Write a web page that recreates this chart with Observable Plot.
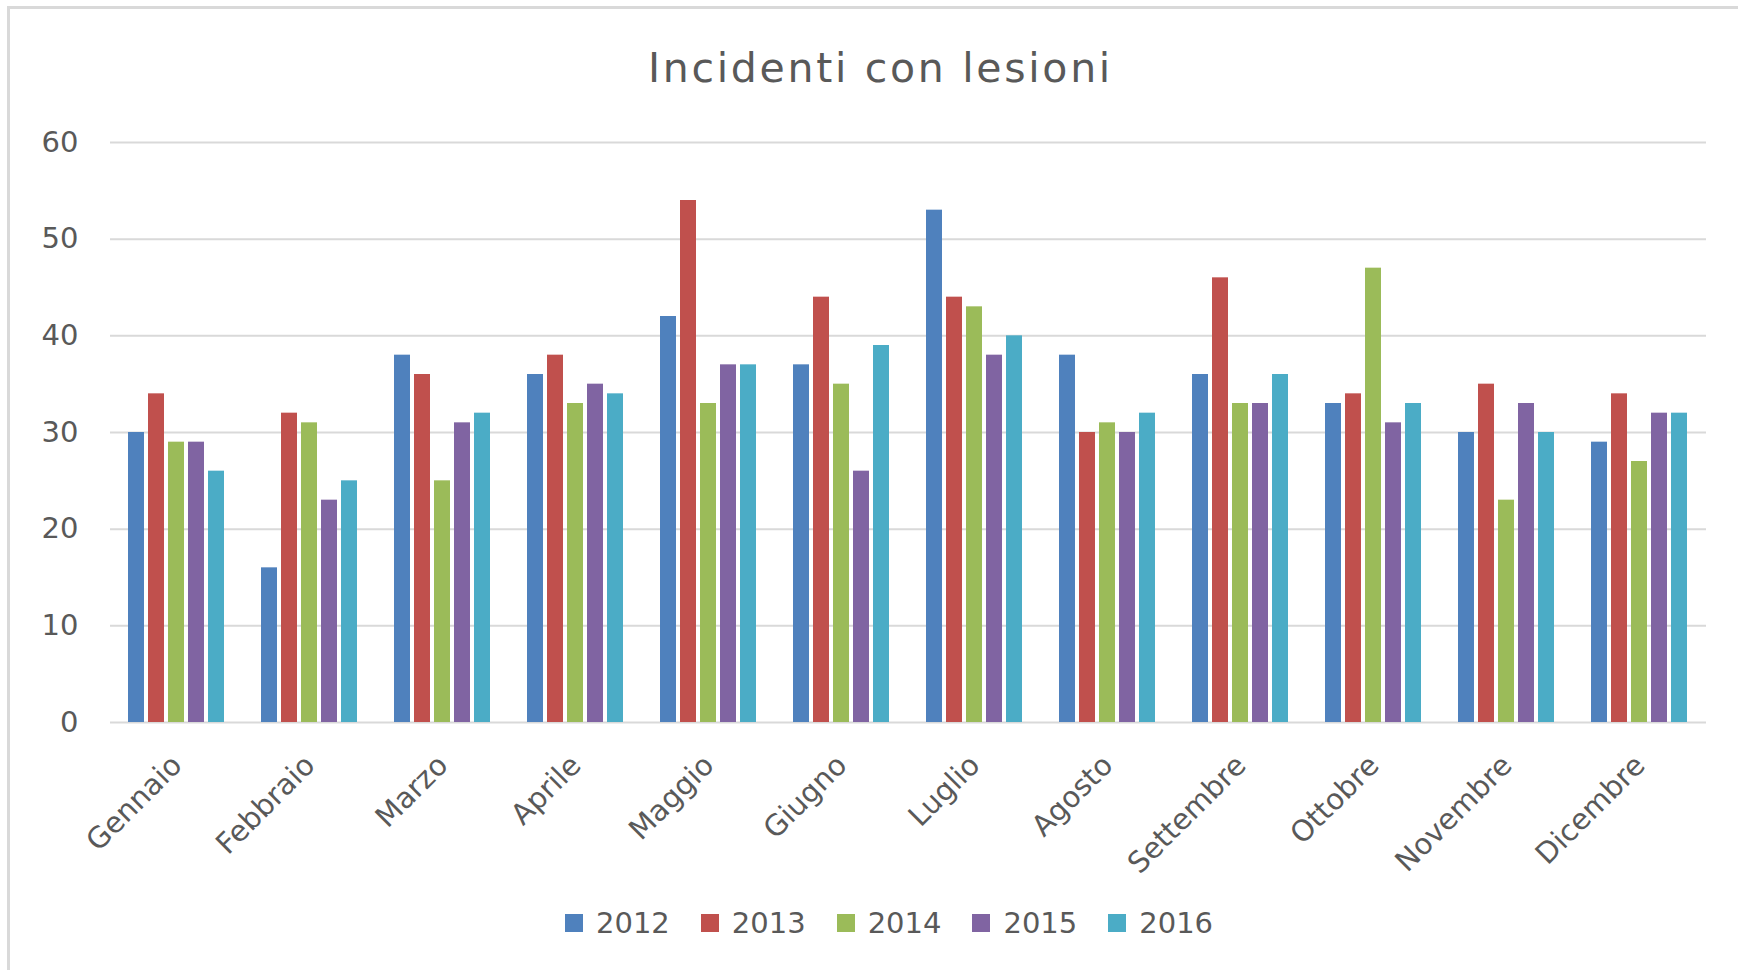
<!DOCTYPE html>
<html>
<head>
<meta charset="utf-8">
<script src="https://cdn.jsdelivr.net/npm/d3@7"></script>
<script src="https://cdn.jsdelivr.net/npm/@observablehq/plot@0.6"></script>
<style>
  body { margin: 0; background: #fff; }
  #wrap { position: relative; width: 1738px; height: 970px; overflow: hidden; font-family: "DejaVu Sans", sans-serif; background: #fff; }
  #frame { position: absolute; left: 7px; top: 6px; width: 1800px; height: 1000px; border-top: 3px solid #d9d9d9; border-left: 3px solid #d9d9d9; box-sizing: border-box; }
  #title { position: absolute; left: 648px; top: 48px; font-size: 41px; line-height: 1; color: #595959; letter-spacing: 2.7px; white-space: nowrap; }
  #chart { position: absolute; left: 0; top: 100px; }
  #legend { position: absolute; left: 565px; top: 905px; height: 36px; display: flex; align-items: center; color: #595959; font-size: 29px; white-space: nowrap; }
  #legend .item { display: flex; align-items: center; margin-right: 31px; }
  #legend .sw { width: 18px; height: 18px; margin-right: 13px; display: inline-block; }
</style>
</head>
<body>
<div id="wrap">
  <div id="frame"></div>
  <div id="title">Incidenti con lesioni</div>
  <div id="chart"></div>
  <div id="legend"></div>
</div>
<script>
const months = ["Gennaio", "Febbraio", "Marzo", "Aprile", "Maggio", "Giugno", "Luglio", "Agosto", "Settembre", "Ottobre", "Novembre", "Dicembre"];
const years = ["2012", "2013", "2014", "2015", "2016"];
const v2012 = [30, 16, 38, 36, 42, 37, 53, 38, 36, 33, 30, 29];
const v2013 = [34, 32, 36, 38, 54, 44, 44, 30, 46, 34, 35, 34];
const v2014 = [29, 31, 25, 33, 33, 35, 43, 31, 33, 47, 23, 27];
const v2015 = [29, 23, 31, 35, 37, 26, 38, 30, 33, 31, 33, 32];
const v2016 = [26, 25, 32, 34, 37, 39, 40, 32, 36, 33, 30, 32];
const colors = ["#4F81BD", "#C0504D", "#9BBB59", "#8064A2", "#4BACC6"];
const yTicks = [0, 10, 20, 30, 40, 50, 60];

const series = [v2012, v2013, v2014, v2015, v2016];
const data = months.flatMap((m, i) => years.map((y, j) => ({month: m, year: y, value: series[j][i]})));

const plot = Plot.plot({
  width: 1738,
  height: 780,
  marginLeft: 108,
  marginRight: 31,
  marginTop: 42,
  marginBottom: 158,
  style: {fontFamily: "DejaVu Sans, sans-serif", fontSize: "29px", color: "#595959", background: "transparent", overflow: "visible"},
  fx: {domain: months, padding: 0, label: null},
  x: {domain: years, paddingInner: 0.18, paddingOuter: 0.82, axis: null},
  y: {domain: [0, 60], label: null},
  color: {domain: years, range: colors},
  marks: [
    Plot.ruleY(yTicks, {stroke: "#d9d9d9", strokeWidth: 2}),
    Plot.barY(data, {fx: "month", x: "year", y: "value", fill: "year"}),
    Plot.axisY(yTicks, {tickSize: 0, tickPadding: 32, fill: "#595959", fontSize: 29, label: null}),
    Plot.axisFx({anchor: "bottom", tickRotate: -45, tickSize: 0, tickPadding: 38, dx: 0, fontSize: 29, fill: "#595959", label: null})
  ]
});
document.getElementById("chart").appendChild(plot);

const color = plot.scale("color");
const legend = document.getElementById("legend");
years.forEach(y => {
  const item = document.createElement("span");
  item.className = "item";
  const sw = document.createElement("span");
  sw.className = "sw";
  sw.style.background = color.apply(y);
  item.appendChild(sw);
  item.appendChild(document.createTextNode(y));
  legend.appendChild(item);
});
</script>
</body>
</html>
